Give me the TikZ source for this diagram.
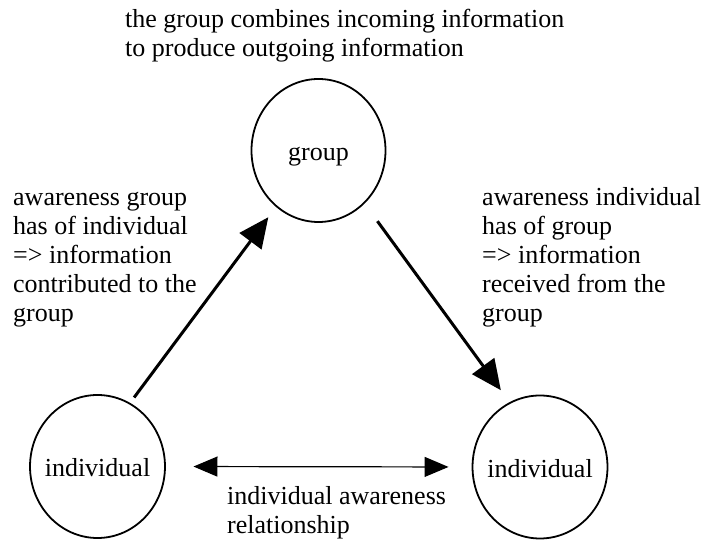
\documentclass[tikz,border=0pt]{standalone}
\usepackage{fontspec}
\setmainfont{Liberation Serif}
\usetikzlibrary{arrows.meta,shapes.geometric}

\begin{document}
\begin{tikzpicture}[x=1pt,y=1pt,
  every node/.style={font=\fontsize{26}{29}\selectfont},
  party/.style={draw, line width=1.8pt, ellipse, minimum width=134pt,
    minimum height=143pt, inner xsep=-5pt, inner ysep=0pt, outer sep=0pt,
    text height=21pt, text depth=0pt},
  note/.style={anchor=base west, align=left, inner sep=0pt},
  flow/.style={line width=3pt, -{Triangle[length=30pt,width=27pt]}},
  mutual/.style={line width=1.2pt,
    {Triangle[length=24pt,width=20pt]}-{Triangle[length=24pt,width=20pt]}}]

  \useasboundingbox (0,0) rectangle (703,545);

  % the three parties
  \node[party] (group) at (318.5,394.5) {group};
  \node[party] (indL)  at (97.5,78.5)   {individual};
  \node[party] (indR)  at (540,78)      {individual};

  % information flows
  \draw[flow, shorten <=7.6pt, shorten >=13.7pt] (indL.63) -- (group.233);
  \draw[flow, shorten <=22.6pt, shorten >=15.7pt] (group.311) -- (indR.115);
  \draw[mutual, shorten <=28.5pt, shorten >=24pt] (indL.east) -- (indR.west);

  % explanatory texts (anchored on the baseline of their last line)
  \node[note] (topnote) at (125,488)
    {the group combines incoming information\\to produce outgoing information};
  \node[note] (leftnote) at (13,223)
    {awareness group\\has of individual\\=> information\\contributed to the\\group};
  \node[note] (rightnote) at (482,223)
    {awareness individual\\has of group\\=> information\\received from the\\group};
  \node[note] (bottomnote) at (227,11)
    {individual awareness\\relationship};
\end{tikzpicture}
\end{document}
